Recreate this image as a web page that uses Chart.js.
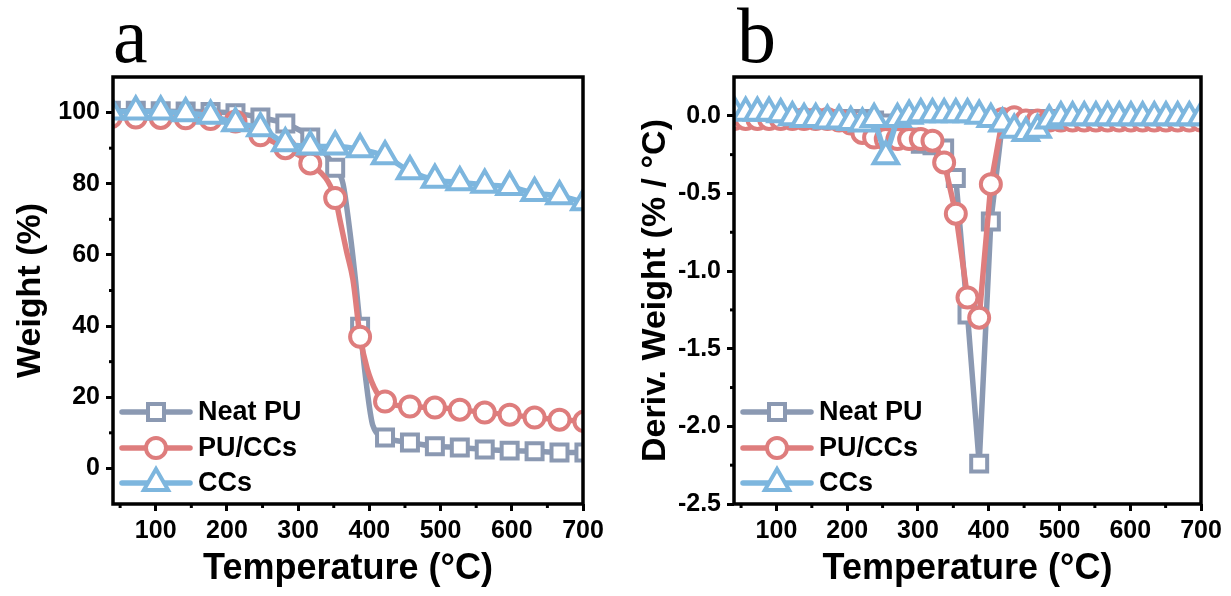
<!DOCTYPE html>
<html>
<head>
<meta charset="utf-8">
<script src="https://cdn.jsdelivr.net/npm/chart.js@4.4.1/dist/chart.umd.min.js"></script>
<style>
  html, body { margin: 0; padding: 0; background: #fff; }
  #wrap { position: relative; width: 1231px; height: 596px; overflow: hidden; }
  canvas { position: absolute; top: 0; }
  #tga { left: 0; }
  #dtg { left: 615px; }
</style>
</head>
<body>
<div id="wrap">
  <canvas id="tga" width="615" height="596"></canvas>
  <canvas id="dtg" width="616" height="596"></canvas>
</div>
<script>
"use strict";

// series shared by both panels
const seriesNames = ["Neat PU", "PU/CCs", "CCs"];
const seriesColors = ["#8b99b2", "#de7d7d", "#7db6de"];
const seriesShapes = ["rect", "circle", "triangle"];

// labelled ticks
const tempTicks = [100, 200, 300, 400, 500, 600, 700];
const tgaTicks = [0, 20, 40, 60, 80, 100];
const dtgTicks = [-2.5, -2.0, -1.5, -1.0, -0.5, 0.0];

// (a) TGA - weight (%) at the symbol temperatures
const tgaTemp = [37, 72, 107, 142, 177, 212, 247, 282, 317, 352, 387, 422, 457, 492, 527, 562, 597, 632, 667, 702];
const tgaNeatPU = [100.5, 100.5, 100.4, 100.3, 100.2, 99.8, 98.6, 96.9, 93.0, 84.5, 39.8, 8.7, 7.3, 6.2, 5.9, 5.3, 5.0, 4.8, 4.5, 4.5];
const tgaPUCCs = [98.7, 98.6, 98.5, 98.4, 98.2, 97.5, 93.6, 90.0, 85.7, 76.0, 37.0, 18.8, 17.4, 17.1, 16.5, 15.7, 15.1, 14.3, 13.7, 13.2];
const tgaCCs = [100.3, 100.3, 100.3, 99.8, 99.1, 97.0, 95.6, 91.4, 90.5, 90.5, 89.7, 87.7, 83.5, 81.1, 80.4, 79.7, 79.1, 77.4, 76.5, 74.8];

// extra readings along the main weight-loss step (line only, no symbol)
const tgaNeatPUStepT = [363, 373, 381, 395, 405];
const tgaNeatPUStep = [80, 66, 52, 25, 12];
const tgaPUCCsStepT = [359, 368, 377, 397, 410];
const tgaPUCCsStep = [69.5, 61, 53, 28, 21.5];

// (b) DTG - derivative weight (% / °C)
const dtgTemp = [40, 56.5, 73, 89.5, 106, 122.5, 139, 155.5, 172, 188.5, 205, 221.5, 238, 254.5, 271, 287.5,
  304, 320.5, 337, 353.5, 370, 386.5, 403, 419.5, 436, 452.5, 469, 485.5, 502, 518.5, 535, 551.5,
  568, 584.5, 601, 617.5, 634, 650.5, 667, 683.5, 700];
const dtgNeatPU = [-0.02, -0.02, -0.02, -0.02, -0.02, -0.02, -0.02, -0.02, -0.02, -0.02, -0.02, -0.02,
  -0.03, -0.05, -0.09, -0.14, -0.18, -0.19, -0.21, -0.40, -1.28, -2.24, -0.68, -0.04,
  -0.02, -0.02, -0.02, -0.02, -0.02, -0.02, -0.02, -0.02, -0.02, -0.02, -0.02, -0.02, -0.02, -0.02, -0.02, -0.02, -0.02];
const dtgPUCCs = [-0.02, -0.02, -0.02, -0.02, -0.02, -0.02, -0.02, -0.02, -0.02,
  -0.03, -0.05, -0.11, -0.14, -0.15, -0.15, -0.15, -0.15, -0.16, -0.30, -0.63, -1.17, -1.30, -0.44, -0.02, -0.01,
  -0.03, -0.03, -0.03, -0.03, -0.03, -0.03, -0.03, -0.03, -0.03, -0.03, -0.03, -0.03, -0.03, -0.03, -0.03, -0.03];
const dtgCCs = [0.03, 0.02, 0.02, 0.02, 0.01, -0.01, -0.02, -0.02, -0.03, -0.03, -0.04, -0.05, -0.02, -0.26,
  -0.02, 0.0, 0.01, 0.01, 0.01, 0.01, 0.01, 0.0, -0.02, -0.05, -0.09, -0.11, -0.09, -0.03,
  -0.01, -0.01, -0.01, -0.01, -0.01, -0.01, -0.01, -0.01, -0.01, -0.01, -0.01, -0.01, -0.01];

const FONT = '"Liberation Sans", Arial, Helvetica, sans-serif';
const radiusFor = { rect: 11.3, circle: 10, triangle: 14 };

function points(temps, vals, stepT, stepV) {
  let pts = temps.map((t, i) => ({ x: t, y: vals[i], mark: true }));
  (stepT || []).forEach((t, i) => pts.push({ x: t, y: stepV[i], mark: false }));
  return pts.sort((a, b) => a.x - b.x);
}

function makeDataset(i, data, smooth) {
  let shape = seriesShapes[i];
  let r = radiusFor[shape];
  return {
    label: seriesNames[i],
    data: data,
    borderColor: seriesColors[i],
    backgroundColor: "#fff",
    borderWidth: 5.5,
    borderCapStyle: "round",
    borderJoinStyle: "round",
    pointStyle: shape,
    pointRadius: ctx => (ctx.raw && ctx.raw.mark === false ? 0 : r),
    pointHoverRadius: ctx => (ctx.raw && ctx.raw.mark === false ? 0 : r),
    pointBorderWidth: 4,
    pointBackgroundColor: "#fff",
    pointBorderColor: seriesColors[i],
    cubicInterpolationMode: smooth ? "monotone" : "default",
    tension: 0,
    order: 3 - i // CCs on top, Neat PU underneath
  };
}

// legend drawn inside the lower left corner of the plot
const insideLegend = {
  id: "insideLegend",
  afterDatasetsDraw(chart) {
    const { ctx, chartArea } = chart;
    const rowsFromBottom = [92, 56, 21];
    ctx.save();
    chart.data.datasets.forEach((ds, i) => {
      let y = chartArea.bottom - rowsFromBottom[i];
      let x0 = chartArea.left + 9;
      ctx.strokeStyle = ds.borderColor;
      ctx.lineWidth = 5.5;
      ctx.lineCap = "round";
      ctx.beginPath();
      ctx.moveTo(x0, y);
      ctx.lineTo(x0 + 68, y);
      ctx.stroke();
      ctx.fillStyle = "#fff";
      ctx.lineWidth = 4;
      Chart.helpers.drawPoint(ctx, { pointStyle: ds.pointStyle, radius: radiusFor[ds.pointStyle], rotation: 0, borderWidth: 4 }, x0 + 34, y);
      ctx.fillStyle = "#000";
      ctx.font = "bold 27px " + FONT;
      ctx.textBaseline = "middle";
      ctx.textAlign = "left";
      ctx.fillText(ds.label, x0 + 76, y + 1);
    });
    ctx.restore();
  }
};

// half-length ticks between the labelled ones
const minorTicks = {
  id: "minorTicks",
  afterDraw(chart) {
    const { ctx, chartArea, scales } = chart;
    ctx.save();
    ctx.strokeStyle = "#000";
    ctx.lineWidth = 3;
    [scales.x, scales.y].forEach(scale => {
      let vals = scale.ticks.map(t => t.value);
      let step = vals[1] - vals[0];
      for (let v = vals[0] - step / 2; v < scale.max; v += step) {
        if (v <= scale.min) continue;
        let p = scale.getPixelForValue(v);
        ctx.beginPath();
        if (scale.isHorizontal()) {
          ctx.moveTo(p, chartArea.bottom);
          ctx.lineTo(p, chartArea.bottom + 4);
        } else {
          ctx.moveTo(chartArea.left, p);
          ctx.lineTo(chartArea.left - 4, p);
        }
        ctx.stroke();
      }
    });
    ctx.restore();
  }
};

// closed box around the plot
const frame = {
  id: "frame",
  afterDraw(chart) {
    const { ctx, chartArea } = chart;
    ctx.save();
    ctx.strokeStyle = "#000";
    ctx.lineWidth = 3.5;
    ctx.strokeRect(chartArea.left, chartArea.top, chartArea.right - chartArea.left, chartArea.bottom - chartArea.top);
    ctx.restore();
  }
};

function panelLetter(text, dx) {
  return {
    id: "panelLetter",
    afterDraw(chart) {
      const { ctx, chartArea } = chart;
      ctx.save();
      ctx.font = '78px "Liberation Serif", "Times New Roman", serif';
      ctx.fillStyle = "#000";
      ctx.textBaseline = "alphabetic";
      ctx.fillText(text, chartArea.left + dx, 62);
      ctx.restore();
    }
  };
}

function boldFont(size) {
  return { family: FONT, size: size, weight: "bold" };
}

function makeOptions(cfg) {
  return {
    responsive: false,
    animation: false,
    events: [],
    layout: { padding: { left: 0, right: cfg.padRight, top: 77, bottom: 0 } },
    plugins: { legend: { display: false }, tooltip: { enabled: false } },
    scales: {
      x: {
        type: "linear",
        min: 40,
        max: 700,
        afterBuildTicks: s => { s.ticks = tempTicks.map(v => ({ value: v })); },
        ticks: { color: "#000", font: boldFont(25), padding: 5, maxRotation: 0, autoSkip: false },
        grid: { drawOnChartArea: false, tickLength: 7, tickWidth: 3, tickColor: "#000" },
        border: { display: false },
        title: { display: true, text: "Temperature (°C)", color: "#000", font: boldFont(36), padding: { top: 0, bottom: 5 } },
        afterFit: s => { s.height = 92; }
      },
      y: {
        type: "linear",
        min: cfg.yMin,
        max: cfg.yMax,
        afterBuildTicks: s => { s.ticks = cfg.yTicks.map(v => ({ value: v })); },
        ticks: { color: "#000", font: boldFont(25), padding: 6, autoSkip: false, callback: cfg.yFormat },
        grid: { drawOnChartArea: false, tickLength: 7, tickWidth: 3, tickColor: "#000" },
        border: { display: false },
        title: { display: true, text: cfg.yTitle, color: "#000", font: boldFont(34), padding: { top: cfg.titlePad, bottom: 0 } },
        afterFit: s => { s.width = cfg.yWidth; }
      }
    }
  };
}

new Chart(document.getElementById("tga"), {
  type: "line",
  data: {
    datasets: [
      makeDataset(0, points(tgaTemp, tgaNeatPU, tgaNeatPUStepT, tgaNeatPUStep), true),
      makeDataset(1, points(tgaTemp, tgaPUCCs, tgaPUCCsStepT, tgaPUCCsStep), true),
      makeDataset(2, points(tgaTemp, tgaCCs), true)
    ]
  },
  options: makeOptions({
    padRight: 32, yMin: -10, yMax: 110, yTicks: tgaTicks, yWidth: 113, titlePad: 10,
    yTitle: "Weight (%)", yFormat: v => v
  }),
  plugins: [insideLegend, minorTicks, frame, panelLetter("a", 0)]
});

new Chart(document.getElementById("dtg"), {
  type: "line",
  data: {
    datasets: [
      makeDataset(0, points(dtgTemp, dtgNeatPU), false),
      makeDataset(1, points(dtgTemp, dtgPUCCs), false),
      makeDataset(2, points(dtgTemp, dtgCCs), false)
    ]
  },
  options: makeOptions({
    padRight: 30, yMin: -2.5, yMax: 0.25, yTicks: dtgTicks, yWidth: 119, titlePad: 20,
    yTitle: "Deriv. Weight (% / °C)", yFormat: v => Number(v).toFixed(1)
  }),
  plugins: [insideLegend, minorTicks, frame, panelLetter("b", 3)]
});
</script>
</body>
</html>
